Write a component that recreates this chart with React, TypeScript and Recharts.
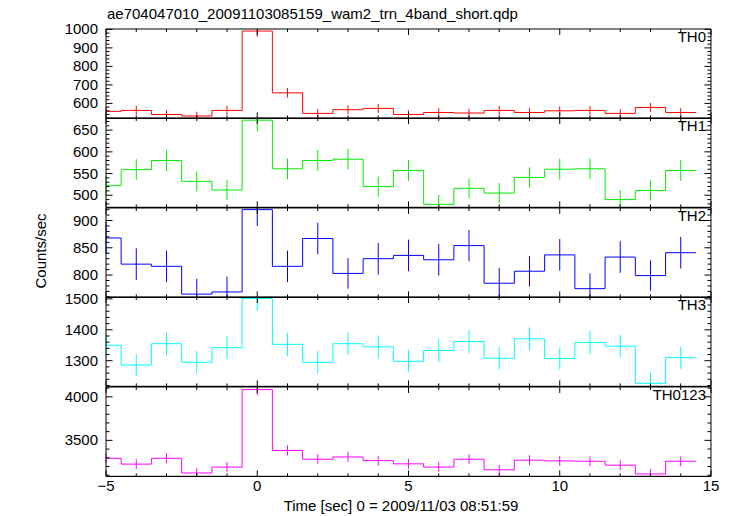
import { ErrorBar, Line, LineChart, ReferenceLine, XAxis, YAxis } from 'recharts';

// bin centres (sec), 1 s bins
const BINS = [-5, -4, -3, -2, -1, 0, 1, 2, 3, 4, 5, 6, 7, 8, 9, 10, 11, 12, 13, 14];

const TH0 = [557, 562, 540, 532, 562, 991, 657, 546, 566, 573, 540, 551, 548, 562, 551, 560, 562, 546, 578, 551];
const TH0_ERR = [23, 24, 23, 23, 24, 31, 26, 23, 24, 24, 23, 23, 23, 24, 23, 24, 24, 23, 24, 23];

const TH1 = [522, 559, 580, 532, 512, 673, 561, 580, 583, 520, 557, 479, 516, 505, 541, 560, 561, 490, 511, 557];
const TH1_ERR = [23, 24, 24, 23, 23, 26, 24, 24, 24, 23, 24, 22, 23, 23, 23, 24, 24, 22, 23, 24];

const TH2 = [868, 820, 816, 765, 769, 920, 816, 867, 803, 830, 836, 828, 854, 785, 807, 837, 775, 833, 799, 841];
const TH2_ERR = [29, 29, 29, 28, 28, 30, 29, 29, 28, 29, 29, 29, 29, 28, 28, 29, 28, 29, 28, 29];

const TH3 = [1350, 1286, 1355, 1295, 1342, 1501, 1353, 1295, 1355, 1345, 1298, 1333, 1362, 1308, 1371, 1307, 1359, 1347, 1227, 1310];
const TH3_ERR = [37, 36, 37, 36, 37, 39, 37, 36, 37, 37, 36, 37, 37, 36, 37, 36, 37, 37, 35, 36];

const TH0123 = [3294, 3227, 3294, 3125, 3193, 4083, 3384, 3283, 3309, 3267, 3230, 3193, 3283, 3162, 3272, 3264, 3260, 3215, 3114, 3260];
const TH0123_ERR = [57, 57, 57, 56, 56, 64, 58, 57, 58, 57, 57, 56, 57, 56, 57, 57, 57, 57, 56, 57];

const X_DOMAIN = [-5, 15];
const X_MAJOR = [-5, 0, 5, 10, 15];

const TH0_TICKS = [600, 700, 800, 900, 1000];
const TH1_TICKS = [500, 550, 600, 650];
const TH2_TICKS = [800, 850, 900];
const TH3_TICKS = [1300, 1400, 1500];
const TH0123_TICKS = [3500, 4000];

const TITLE = 'ae704047010_20091103085159_wam2_trn_4band_short.qdp';

const FONT = '"Liberation Sans", Arial, Helvetica, sans-serif';
const W = 733;
const H = 516;
const PLOT_LEFT = 106;
const PLOT_RIGHT = 711;
const PLOT_W = PLOT_RIGHT - PLOT_LEFT;
const PLOT_TOP = 29;
const PANEL_H = 89.4;
const PAD = 14;
const X_AXIS_H = 1;

const panels = [
  { name: 'TH0', color: '#ff0000', values: TH0, errors: TH0_ERR, domain: [519, 1002], ticks: TH0_TICKS, minor: 20 },
  { name: 'TH1', color: '#00ee00', values: TH1, errors: TH1_ERR, domain: [472, 678], ticks: TH1_TICKS, minor: 10 },
  { name: 'TH2', color: '#0000ff', values: TH2, errors: TH2_ERR, domain: [759, 923], ticks: TH2_TICKS, minor: 10 },
  { name: 'TH3', color: '#00ffff', values: TH3, errors: TH3_ERR, domain: [1217, 1506], ticks: TH3_TICKS, minor: 20 },
  { name: 'TH0123', color: '#ff00ff', values: TH0123, errors: TH0123_ERR, domain: [3086, 4113], ticks: TH0123_TICKS, minor: 100 },
];

const fmtTick = (v: number) => (v < 0 ? `\u2212${-v}` : String(v));

function stepData(values: number[]) {
  const pts = BINS.map((c, i) => ({ x: Math.max(c - 0.5, X_DOMAIN[0]), y: values[i] }));
  const last = BINS.length - 1;
  pts.push({ x: BINS[last] + 0.5, y: values[last] });
  return pts;
}

// error bars are cut at the panel frame, like the plot does
function errorData(values: number[], errors: number[], domain: number[]) {
  return BINS.map((c, i) => {
    const v = values[i];
    const e = errors[i];
    return { x: c, y: v, e: [Math.min(e, v - domain[0]), Math.min(e, domain[1] - v)] };
  });
}

function minorTicks(domain: number[], step: number) {
  const out: number[] = [];
  for (let v = Math.ceil(domain[0] / step) * step; v <= domain[1]; v += step) out.push(v);
  return out;
}

const xTicks = minorTicks(X_DOMAIN, 1);

function XTick(props: any) {
  const { x, y, payload, showLabel } = props;
  const v = payload.value;
  const major = X_MAJOR.includes(v);
  const len = major ? 6 : 3;
  return (
    <g>
      <line x1={x} y1={y} x2={x} y2={y - len} stroke="#000" />
      <line x1={x} y1={y - PANEL_H} x2={x} y2={y - PANEL_H + len} stroke="#000" />
      {showLabel && major ? (
        <text x={x} y={y + 15} textAnchor="middle" fontSize={15} fontFamily={FONT} fill="#000">
          {fmtTick(v)}
        </text>
      ) : null}
    </g>
  );
}

function YTick(props: any) {
  const { x, y, payload, majors } = props;
  const v = payload.value;
  const major = majors.includes(v);
  const len = major ? 6.5 : 3.5;
  return (
    <g>
      <line x1={x} y1={y} x2={x + len} y2={y} stroke="#000" />
      <line x1={x + PLOT_W} y1={y} x2={x + PLOT_W - len} y2={y} stroke="#000" />
      {major ? (
        <text x={x - 8} y={y + 5} textAnchor="end" fontSize={15} fontFamily={FONT} fill="#000">
          {v}
        </text>
      ) : null}
    </g>
  );
}

function Panel({ index }: { index: number }) {
  const p = panels[index];
  const last = index === panels.length - 1;
  const bottom = (last ? 40 : PAD) - X_AXIS_H;
  return (
    <div style={{ position: 'absolute', left: 0, top: PLOT_TOP + index * PANEL_H - PAD }}>
      <LineChart
        width={W}
        height={PANEL_H + PAD + bottom + X_AXIS_H}
        margin={{ top: PAD, right: W - PLOT_RIGHT, bottom, left: 0 }}
      >
        <XAxis
          type="number"
          dataKey="x"
          domain={X_DOMAIN}
          allowDataOverflow
          ticks={xTicks}
          interval={0}
          height={X_AXIS_H}
          tickSize={0}
          tickMargin={0}
          tickLine={false}
          axisLine={{ stroke: '#000' }}
          tick={<XTick showLabel={last} />}
        />
        <YAxis
          type="number"
          domain={p.domain}
          allowDataOverflow
          ticks={minorTicks(p.domain, p.minor)}
          interval={0}
          width={PLOT_LEFT}
          tickSize={0}
          tickMargin={0}
          tickLine={false}
          axisLine={{ stroke: '#000' }}
          tick={<YTick majors={p.ticks} />}
        />
        <ReferenceLine y={p.domain[1]} stroke="#000" />
        <ReferenceLine y={p.domain[0]} stroke="#000" />
        <ReferenceLine x={X_DOMAIN[1]} stroke="#000" />
        <Line
          data={stepData(p.values)}
          dataKey="y"
          type="stepAfter"
          stroke={p.color}
          strokeWidth={1}
          dot={false}
          activeDot={false}
          isAnimationActive={false}
        />
        <Line
          data={errorData(p.values, p.errors, p.domain)}
          dataKey="y"
          stroke="none"
          dot={false}
          activeDot={false}
          isAnimationActive={false}
        >
          <ErrorBar dataKey="e" width={0} stroke={p.color} strokeWidth={1} direction="y" isAnimationActive={false} />
        </Line>
      </LineChart>
    </div>
  );
}

export default function App() {
  return (
    <div style={{ position: 'absolute', left: 0, top: 0, width: W, height: H, background: '#fff' }}>
      {panels.map((_, i) => (
        <Panel key={i} index={i} />
      ))}
      <svg
        width={W}
        height={H}
        style={{ position: 'absolute', left: 0, top: 0, pointerEvents: 'none' }}
        fontFamily={FONT}
        fontSize={15}
      >
        <text x={107} y={19} fill="#000">{TITLE}</text>
        <text x={46} y={251} transform="rotate(-90 46 251)" textAnchor="middle" fill="#000">
          Counts/sec
        </text>
        <text x={401} y={511} textAnchor="middle" fill="#000">
          Time [sec] 0 = 2009/11/03 08:51:59
        </text>
        {panels.map((p, i) => (
          <text key={p.name} x={706} y={PLOT_TOP + i * PANEL_H + 13} textAnchor="end" fill="#000">
            {p.name}
          </text>
        ))}
      </svg>
    </div>
  );
}
